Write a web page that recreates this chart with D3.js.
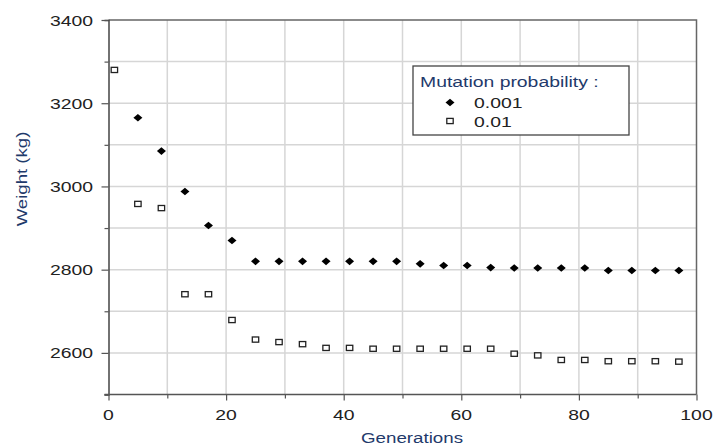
<!DOCTYPE html>
<html>
<head>
<meta charset="utf-8">
<script src="https://cdn.jsdelivr.net/npm/d3@7"></script>
<style>
  body { margin: 0; background: #fff; }
  svg { display: block; font-family: "Liberation Sans", Arial, sans-serif; }
</style>
</head>
<body>
<div id="chart"></div>
<script>
// generations sampled (every 4) and best weight found, per mutation probability
const gens001 = [5, 9, 13, 17, 21, 25, 29, 33, 37, 41, 45, 49, 53, 57, 61, 65, 69, 73, 77, 81, 85, 89, 93, 97];
const weights001 = [3165, 3085, 2988, 2906, 2870, 2820, 2820, 2820, 2820, 2820, 2820, 2820, 2814, 2810, 2810, 2805, 2804, 2804, 2804, 2804, 2798, 2798, 2798, 2798];

const gens01 = [1, 5, 9, 13, 17, 21, 25, 29, 33, 37, 41, 45, 49, 53, 57, 61, 65, 69, 73, 77, 81, 85, 89, 93, 97];
const weights01 = [3280, 2958, 2948, 2741, 2741, 2679, 2632, 2626, 2621, 2612, 2612, 2610, 2610, 2610, 2610, 2610, 2610, 2598, 2594, 2583, 2583, 2580, 2580, 2580, 2579];

const xTicks = [0, 20, 40, 60, 80, 100];
const yTicks = [2600, 2800, 3000, 3200, 3400];
const legendTitle = "Mutation probability :";
const legendLabels = ["0.001", "0.01"];

const W = 713, H = 447;
const stretch = 1.25; // source text is stretched wide

const svg = d3.select("#chart").append("svg")
  .attr("width", W).attr("height", H);

const x = d3.scaleLinear().domain([0, 100]).range([108.5, 696.5]);
const y = d3.scaleLinear().domain([2500, 3400]).range([394.5, 20]);

function label(g, px, py, txt, anchor, size, color) {
  return g.append("text")
    .attr("transform", "translate(" + px + "," + py + ") scale(" + stretch + ",1)")
    .attr("text-anchor", anchor)
    .style("font-size", size + "px")
    .style("fill", color)
    .text(txt);
}

// grid
const grid = svg.append("g");
grid.selectAll(".gx").data(d3.range(10, 100, 10)).enter().append("line")
  .attr("x1", d => x(d)).attr("x2", d => x(d))
  .attr("y1", y(3400)).attr("y2", y(2500))
  .attr("stroke", "#d6d6d6").attr("stroke-width", 1.5);
grid.selectAll(".gy").data(d3.range(2600, 3400, 100)).enter().append("line")
  .attr("x1", x(0)).attr("x2", x(100))
  .attr("y1", d => y(d)).attr("y2", d => y(d))
  .attr("stroke", "#d6d6d6").attr("stroke-width", 1.5);

// frame top + right
svg.append("path")
  .attr("d", "M" + x(0) + "," + y(3400) + "H" + x(100) + "V" + y(2500))
  .attr("fill", "none").attr("stroke", "#666").attr("stroke-width", 1.5);

// left axis
const yAxis = svg.append("g").attr("transform", "translate(" + x(0) + ",0)")
  .call(d3.axisLeft(y).tickValues(d3.range(2500, 3401, 100)).tickSize(4).tickFormat(""));
yAxis.select(".domain").attr("stroke", "#444").attr("stroke-width", 1.5);
yAxis.selectAll(".tick line").attr("stroke", "#555").attr("stroke-width", 1.2)
  .attr("x2", d => (d % 200 === 0 && d !== 2500) ? -7 : -4);

// bottom axis
const xAxis = svg.append("g").attr("transform", "translate(0," + y(2500) + ")")
  .call(d3.axisBottom(x).tickValues(d3.range(0, 101, 10)).tickSize(4).tickFormat(""));
xAxis.select(".domain").remove();
xAxis.append("line").attr("x1", x(0) - 4).attr("x2", x(100))
  .attr("stroke", "#555").attr("stroke-width", 1.5);
xAxis.selectAll(".tick line").attr("stroke", "#555").attr("stroke-width", 1.2)
  .attr("y2", d => d % 20 === 0 ? 6 : 4);

// tick labels
const labels = svg.append("g");
yTicks.forEach(v => label(labels, 93, y(v) + 5.5, v, "end", 15.5, "#222"));
xTicks.forEach(v => label(labels, x(v), 420, v, "middle", 15.5, "#222"));

// axis titles
label(svg, 412, 443, "Generations", "middle", 15, "#1f3a6b");
svg.append("text")
  .attr("transform", "translate(27,179) rotate(-90) scale(1.2,1)")
  .attr("text-anchor", "middle")
  .style("font-size", "15.5px").style("fill", "#1f3a6b")
  .text("Weight (kg)");

// markers
function diamond(g, px, py) {
  g.append("path")
    .attr("d", "M" + (px - 4.5) + "," + py + "L" + px + "," + (py - 3.8) + "L" + (px + 4.5) + "," + py + "L" + px + "," + (py + 3.8) + "Z")
    .attr("fill", "#000");
}
function square(g, px, py) {
  g.append("rect")
    .attr("x", px - 3.2).attr("y", py - 2.6)
    .attr("width", 6.4).attr("height", 5.2)
    .attr("fill", "#fff").attr("stroke", "#222").attr("stroke-width", 1.3);
}

const pts = svg.append("g");
gens01.forEach((g, i) => square(pts, x(g), y(weights01[i])));
gens001.forEach((g, i) => diamond(pts, x(g), y(weights001[i])));

// legend
const lg = svg.append("g");
lg.append("rect").attr("x", 413).attr("y", 66).attr("width", 216).attr("height", 69)
  .attr("fill", "#fff").attr("stroke", "#444").attr("stroke-width", 1.3);
label(lg, 420, 87, legendTitle, "start", 15.5, "#1f3a6b");
diamond(lg, 450, 102.5);
square(lg, 450, 121);
label(lg, 474, 108, legendLabels[0], "start", 15.5, "#222");
label(lg, 474, 126.5, legendLabels[1], "start", 15.5, "#222");
</script>
</body>
</html>
